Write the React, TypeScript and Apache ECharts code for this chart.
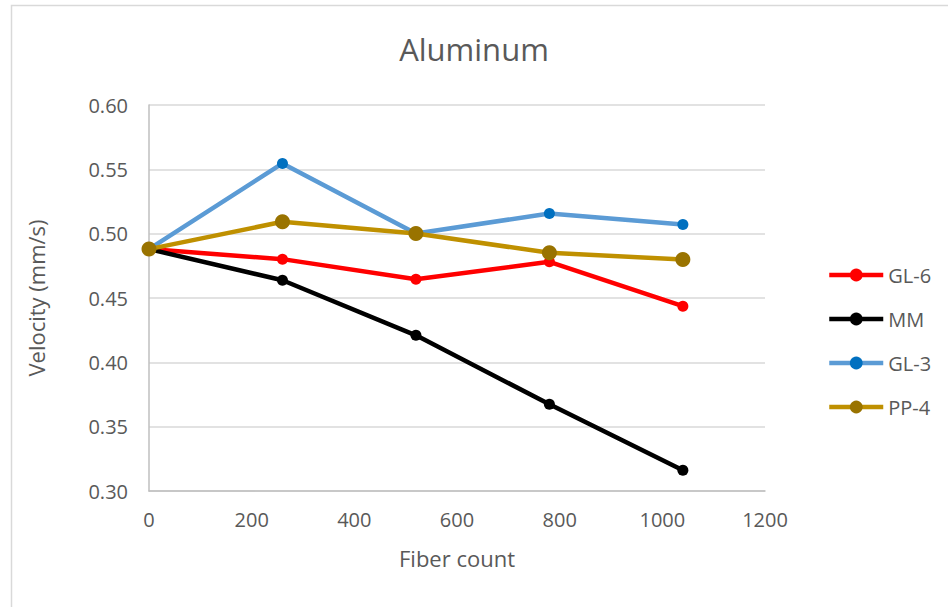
import React, { useEffect, useRef } from "react";
import * as echarts from "echarts";

// Fiber counts along the x axis
const fiberCounts = [0, 260, 520, 780, 1040];

// Velocity (mm/s) per specimen
const gl6 = [0.488, 0.4802, 0.4646, 0.4781, 0.4436];
const mm = [0.488, 0.4638, 0.421, 0.3674, 0.3161];
const gl3 = [0.488, 0.5546, 0.5002, 0.5157, 0.5072];
const pp4 = [0.488, 0.5092, 0.5002, 0.4851, 0.4799];

const xTicks = { min: 0, max: 1200, interval: 200 };
const yTicks = { min: 0.3, max: 0.6, interval: 0.05 };

const FONT = "'Open Sans', sans-serif";
const TEXT = "#595959";

const pairs = (ys: number[]) => fiberCounts.map((x, i) => [x, ys[i]]);

export default function App() {
  const ref = useRef<HTMLDivElement>(null);

  useEffect(() => {
    if (!ref.current) return;
    const chart = echarts.init(ref.current, null, { renderer: "svg" });

    const specs = [
      { name: "GL-6", ys: gl6, line: "#ff0000", marker: "#ff0000", size: 11 },
      { name: "MM", ys: mm, line: "#000000", marker: "#000000", size: 11 },
      { name: "GL-3", ys: gl3, line: "#5b9bd5", marker: "#0070c0", size: 11 },
      { name: "PP-4", ys: pp4, line: "#bf9000", marker: "#997300", size: 15 },
    ];

    chart.setOption({
      animation: false,
      backgroundColor: "#ffffff",
      textStyle: { fontFamily: FONT },
      title: {
        text: "Aluminum",
        left: "center",
        top: 28,
        textStyle: { fontFamily: FONT, fontSize: 31, fontWeight: "normal", color: TEXT },
      },
      graphic: [
        {
          type: "polyline",
          shape: { points: [[11.5, 620], [11.5, 5.5], [960, 5.5]] },
          style: { stroke: "#d9d9d9", lineWidth: 1.5, fill: "none" },
          silent: true,
        },
      ],
      legend: {
        orient: "vertical",
        left: 822,
        top: 260,
        itemWidth: 54,
        itemHeight: 16,
        itemGap: 24,
        textStyle: { fontFamily: FONT, fontSize: 20, color: TEXT },
        data: specs.map((s) => ({
          name: s.name,
          lineStyle: { width: 4.5, color: s.line },
          itemStyle: { color: s.marker },
        })),
      },
      grid: { left: 149, top: 105, right: 183, bottom: 116, containLabel: false },
      xAxis: {
        type: "value",
        min: xTicks.min,
        max: xTicks.max,
        interval: xTicks.interval,
        name: "Fiber count",
        nameLocation: "middle",
        nameGap: 56,
        nameTextStyle: { fontFamily: FONT, fontSize: 22, color: TEXT },
        axisLine: { show: true, lineStyle: { color: "#bfbfbf", width: 1.5 } },
        axisTick: { show: false },
        splitLine: { show: false },
        axisLabel: {
          fontFamily: FONT,
          fontSize: 20,
          color: TEXT,
          margin: 18,
          formatter: (v: number) => String(v),
        },
      },
      yAxis: {
        type: "value",
        min: yTicks.min,
        max: yTicks.max,
        interval: yTicks.interval,
        name: "Velocity (mm/s)",
        nameLocation: "middle",
        nameGap: 102,
        nameTextStyle: { fontFamily: FONT, fontSize: 22, color: TEXT },
        axisLine: { show: true, lineStyle: { color: "#bfbfbf", width: 1.5 } },
        axisTick: { show: false },
        splitLine: { show: true, lineStyle: { color: "#d9d9d9", width: 1.5 } },
        axisLabel: {
          fontFamily: FONT,
          fontSize: 20,
          color: TEXT,
          margin: 21,
          formatter: (v: number) => v.toFixed(2),
        },
      },
      series: specs.map((s) => ({
        name: s.name,
        type: "line",
        data: pairs(s.ys),
        symbol: "circle",
        symbolSize: s.size,
        showSymbol: true,
        lineStyle: { color: s.line, width: 4.5 },
        itemStyle: { color: s.marker, borderWidth: 0 },
        emphasis: { disabled: true },
      })),
    });

    return () => chart.dispose();
  }, []);

  return (
    <div
      ref={ref}
      style={{ position: "absolute", left: 0, top: 0, width: 948, height: 607 }}
    />
  );
}
